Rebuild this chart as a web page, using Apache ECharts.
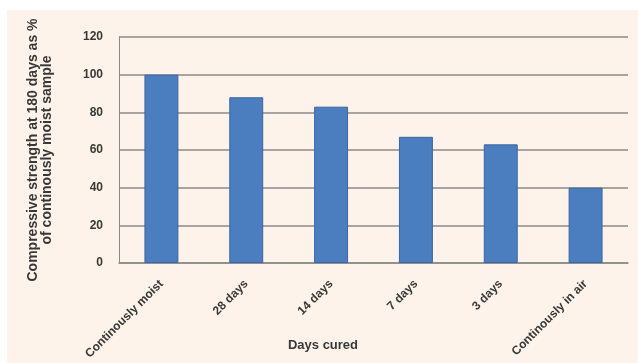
<!DOCTYPE html>
<html><head><meta charset="utf-8">
<script src="https://cdn.jsdelivr.net/npm/echarts@6/dist/echarts.min.js"></script>
<style>html,body{margin:0;padding:0;background:#fff}#c{width:638px;height:363px}</style>
</head><body><div id="c"></div>
<script>
const categories = ['Continously moist', '28 days', '14 days', '7 days', '3 days', 'Continously in air'];
const values = [100, 88, 83, 67, 63, 40];
const yTicks = [0, 20, 40, 60, 80, 100, 120];
const yTitle = 'Compressive strength at 180 days as %\nof continously moist sample';
const xTitle = 'Days cured';

const chart = echarts.init(document.getElementById('c'), null, {renderer: 'canvas'});
const txt = '#383838';
const ff = '"Liberation Sans", Arial';
chart.setOption({
  backgroundColor: 'transparent',
  animation: false,
  graphic: [{
    type: 'rect', left: 7, top: 10, z: -10, silent: true,
    shape: {width: 631, height: 353},
    style: {fill: '#fdf3ea'}
  }, {
    type: 'text', x: 323, y: 345,
    style: {text: xTitle, font: 'bold 13px ' + ff, fill: txt, align: 'center', verticalAlign: 'middle'}
  }],
  grid: {left: 119, right: 10, top: 37, bottom: 100},
  xAxis: {
    type: 'category', data: categories,
    axisLine: {show: true, lineStyle: {color: '#8a8a8a', width: 1.5}},
    axisTick: {show: false},
    axisLabel: {rotate: 45, interval: 0, margin: 19, color: txt,
      fontFamily: ff, fontWeight: 'bold', fontSize: 12}
  },
  yAxis: {
    type: 'value', min: yTicks[0], max: yTicks[yTicks.length - 1], interval: 20,
    name: yTitle, nameLocation: 'middle', nameGap: 65, nameRotate: 90,
    nameTextStyle: {color: txt, fontFamily: ff, fontWeight: 'bold', fontSize: 14, lineHeight: 14},
    axisLine: {show: true, lineStyle: {color: '#8a8a8a', width: 1}},
    axisTick: {show: false},
    splitLine: {lineStyle: {color: '#8a8a8a', width: 1.5}},
    axisLabel: {color: txt, margin: 16, fontFamily: ff, fontWeight: 'bold', fontSize: 12}
  },
  series: [{
    type: 'bar', data: values, barWidth: '40%',
    itemStyle: {color: '#4a7ebf', borderColor: '#3a64a2', borderWidth: 1}
  }]
});
</script></body></html>
